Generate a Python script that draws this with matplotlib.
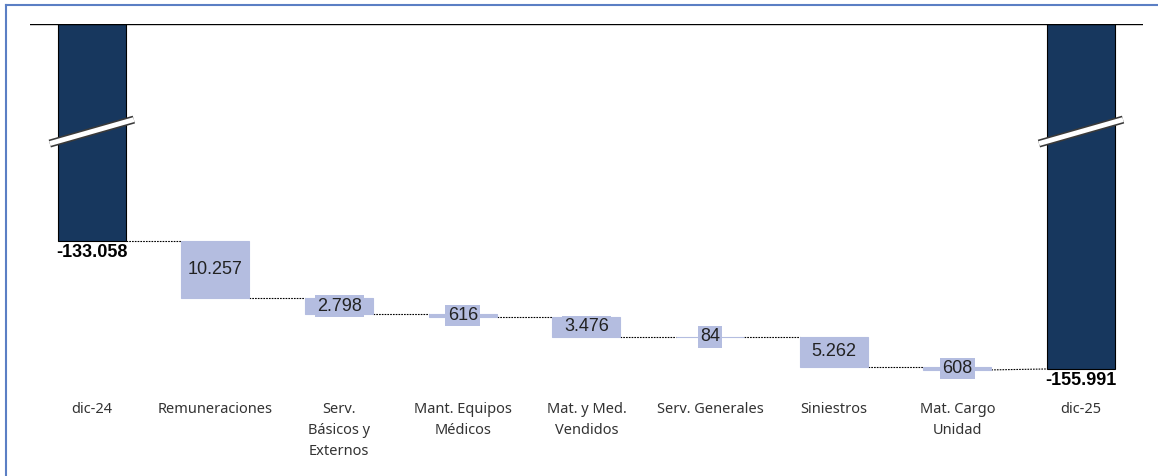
import matplotlib.pyplot as plt
import matplotlib.patheffects as pe
from matplotlib.lines import Line2D

# Waterfall data (thousands)
categories = ['dic-24', 'Remuneraciones', 'Serv.\nBásicos y\nExternos', 'Mant. Equipos\nMédicos',
              'Mat. y Med.\nVendidos', 'Serv. Generales', 'Siniestros', 'Mat. Cargo\nUnidad', 'dic-25']
start_value = -133.058
end_value = -155.991
changes = [-10.257, -2.798, -0.616, -3.476, -0.084, -5.262, -0.608]
change_labels = ['10.257', '2.798', '616', '3.476', '84', '5.262', '608']
total_labels = ['-133.058', '-155.991']

dark = '#17375e'
light = '#b4bde0'
width = 0.55

fig = plt.figure(figsize=(11.58, 4.76), dpi=100)
ax = fig.add_axes([0.0259, 0.170, 0.961, 0.7796])

# broken axis: top of plot stands for 0
y_top = -94.17
y_bot = -160.67
ax.set_ylim(y_bot, y_top)
ax.set_xlim(-0.5, 8.5)

# totals drawn from their value up to the break
for x, v, lab in [(0, start_value, total_labels[0]), (8, end_value, total_labels[1])]:
    ax.bar(x, y_top - v, bottom=v, width=width, color=dark, edgecolor='black', linewidth=0.8, zorder=2)
    ax.text(x, v - 0.5, lab, ha='center', va='top', fontsize=13, fontweight='bold',
            family='Liberation Sans', color='black')

# floating change bars
level = start_value
prev_right = 0 + width / 2
for i, (d, lab) in enumerate(zip(changes, change_labels)):
    x = i + 1
    new_level = level + d
    ax.bar(x, d, bottom=level, width=width, color=light, edgecolor=light, linewidth=0.8, zorder=2)
    ax.plot([prev_right, x - width / 2], [level, level], color='black', ls=(0, (1.5, 1)),
            lw=0.8, zorder=1)
    ax.text(x, level + d / 2, lab, ha='center', va='center', fontsize=13, family='Liberation Sans',
            color='#222222', zorder=3,
            bbox=dict(boxstyle='square,pad=0.12', facecolor=light, edgecolor='none'))
    prev_right = x + width / 2
    level = new_level
ax.plot([prev_right, 8 - width / 2], [level, end_value], color='black', ls=(0, (1.5, 1)),
        lw=0.8, zorder=1)

# zero line at the top
ax.axhline(y_top, color='black', lw=1.0, zorder=3)

# break marks on the total bars
for x in [0, 8]:
    xs = [x - 0.34, x + 0.34]
    ys = [-115.6, -111.3]
    ax.plot(xs, ys, color='white', lw=3.5, solid_capstyle='butt', zorder=4,
            path_effects=[pe.Stroke(linewidth=5.8, foreground='#3a3a3a'), pe.Normal()])

for s in ax.spines.values():
    s.set_visible(False)
ax.set_yticks([])
ax.set_xticks(range(len(categories)))
ax.set_xticklabels(categories, fontsize=10.5, family='Noto Sans', color='#333333', linespacing=1.55)
ax.tick_params(axis='x', length=0, pad=5)

# border of the chart area (left and top only)
fig.add_artist(Line2D([0.0052, 0.0052], [0, 0.989], color='#5b7fc4', lw=1.5))
fig.add_artist(Line2D([0.0052, 1], [0.989, 0.989], color='#5b7fc4', lw=1.5))

fig.savefig('out.png', dpi=100)
